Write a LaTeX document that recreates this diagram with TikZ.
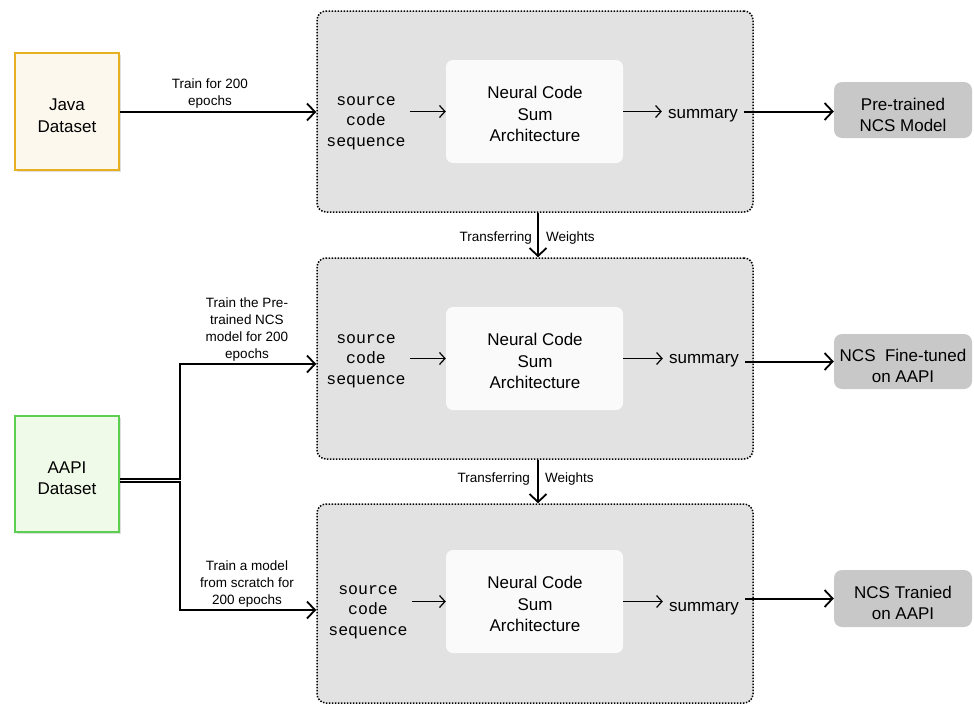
\documentclass[tikz,border=0pt]{standalone}
\usepackage{fontspec}
\setmainfont{Liberation Sans}
\newfontfamily\codefont{Liberation Mono}
\usetikzlibrary{arrows.meta,shadows}

\definecolor{blockgray}{HTML}{E3E2E3}
\definecolor{innerwhite}{HTML}{FBFAFB}
\definecolor{outgray}{HTML}{C8C8C8}
\definecolor{javafill}{HTML}{FDF8EE}
\definecolor{javaedge}{HTML}{E6B022}
\definecolor{aapifill}{HTML}{F0FAE8}
\definecolor{aapiedge}{HTML}{5CCF50}

\tikzset{
  tip/.style={-{Straight Barb[length=8pt,width=17pt,line width=1.8pt]}},
  smalltip/.style={-{Straight Barb[length=5.5pt,width=12pt,line width=1.2pt]}},
  mainline/.style={line width=2pt, tip},
  innerline/.style={line width=1.2pt, smalltip},
  dataset/.style={draw, line width=2pt, minimum width=104pt,
    drop shadow={opacity=0.25, shadow xshift=1.5pt, shadow yshift=-2pt}},
  boxtext/.style={align=center, inner sep=0pt},
  bigfont/.style={font=\fontsize{17}{21.5}\selectfont},
  block/.style={draw, fill=blockgray, line width=1.5pt, dash pattern=on 1.5pt off 1.5pt,
    rounded corners=9pt, minimum width=436pt},
  ncs/.style={fill=innerwhite, rounded corners=7pt, minimum width=177pt, minimum height=103pt},
  srcseq/.style={align=center, font=\codefont\fontsize{16.5}{20.5}\selectfont, inner sep=4pt},
  summ/.style={font=\fontsize{17}{21}\selectfont, inner sep=6pt},
  outbox/.style={fill=outgray, rounded corners=8pt, minimum width=138pt},
  lbl/.style={align=center, font=\fontsize{13.5}{17}\selectfont, inner sep=0pt},
}

\begin{document}
\begin{tikzpicture}[x=1pt,y=-1pt]
\useasboundingbox (0,0) rectangle (974,704);

% dataset boxes
\node[dataset, fill=javafill, draw=javaedge, minimum height=117pt] (java) at (67,111) {};
\node[boxtext, bigfont] (javat) at (67,115.5) {Java\\Dataset};
\node[dataset, fill=aapifill, draw=aapiedge, minimum height=116pt] (aapi) at (67,473.5) {};
\node[boxtext, bigfont] (aapit) at (67,478) {AAPI\\Dataset};

% three training blocks
\node[block, minimum height=201pt] (b1) at (535,111.5) {};
\node[block, minimum height=201pt] (b2) at (535,358.5) {};
\node[block, minimum height=199pt] (b3) at (535,603.5) {};

% contents of each block
\node[srcseq] (s1) at (366,123) {source\\code\\sequence};
\node[ncs] (n1) at (534.5,111.5) {};
\node[boxtext, bigfont] (n1t) at (535,114) {Neural Code\\Sum\\Architecture};
\node[summ] (m1) at (703,116) {summary};

\node[srcseq] (s2) at (366,361) {source\\code\\sequence};
\node[ncs] (n2) at (534.5,358.5) {};
\node[boxtext, bigfont] (n2t) at (535,361) {Neural Code\\Sum\\Architecture};
\node[summ] (m2) at (704,361) {summary};

\node[srcseq] (s3) at (368,612) {source\\code\\sequence};
\node[ncs] (n3) at (534.5,601.5) {};
\node[boxtext, bigfont] (n3t) at (535,604) {Neural Code\\Sum\\Architecture};
\node[summ] (m3) at (704,609) {summary};

\draw[innerline] (s1.east |- n1.west) -- (n1.west);
\draw[innerline] (n1.east) -- (m1.west |- n1.east);
\draw[innerline] (s2.east |- n2.west) -- (n2.west);
\draw[innerline] (n2.east) -- (m2.west |- n2.east);
\draw[innerline] (s3.east |- n3.west) -- (n3.west);
\draw[innerline] (n3.east) -- (m3.west |- n3.east);

% resulting models
\node[outbox, minimum height=56pt] (o1) at (903,110) {};
\node[boxtext, bigfont] (o1t) at (903,115) {Pre-trained\\NCS Model};
\node[outbox, minimum height=55pt] (o2) at (903,361.5) {};
\node[boxtext, bigfont] (o2t) at (903,366) {NCS\ \ Fine-tuned\\on AAPI};
\node[outbox, minimum height=57pt] (o3) at (903,598.5) {};
\node[boxtext, bigfont] (o3t) at (903,603) {NCS Tranied\\on AAPI};

\draw[mainline] (m1.east |- n1.east) -- (o1.west |- n1.east);
\draw[mainline] (m2.east |- o2.west) -- (o2.west);
\draw[mainline] (m3.east |- o3.west) -- (o3.west);

% Java training input
\draw[mainline] (java.east |- 0,112) -- (b1.west |- 0,112);
\node[lbl] (l1) at (210,93.5) {Train for 200\\epochs};

% weight transfer between blocks
\draw[mainline] ([xshift=3pt]b1.south) -- ([xshift=3pt]b2.north);
\node[lbl, anchor=east] (t1a) at (532,238) {Transferring};
\node[lbl, anchor=west] (t1b) at (546,238) {Weights};
\draw[mainline] ([xshift=3pt]b2.south) -- ([xshift=3pt]b3.north);
\node[lbl, anchor=east] (t2a) at (530,479) {Transferring};
\node[lbl, anchor=west] (t2b) at (545,479) {Weights};

% AAPI training inputs
\coordinate (up) at (180,364);
\coordinate (dn) at (180,610);
\draw[mainline] ([yshift=-5pt]aapi.east) -| (up) -- (b2.west |- up);
\draw[mainline] ([yshift=-8.5pt]aapi.east) -| (dn) -- (b3.west |- dn);
\node[lbl] (l2) at (247,330) {Train the Pre-\\trained NCS\\model for 200\\epochs};
\node[lbl] (l3) at (247,584) {Train a model\\from scratch for\\200 epochs};
\end{tikzpicture}
\end{document}
